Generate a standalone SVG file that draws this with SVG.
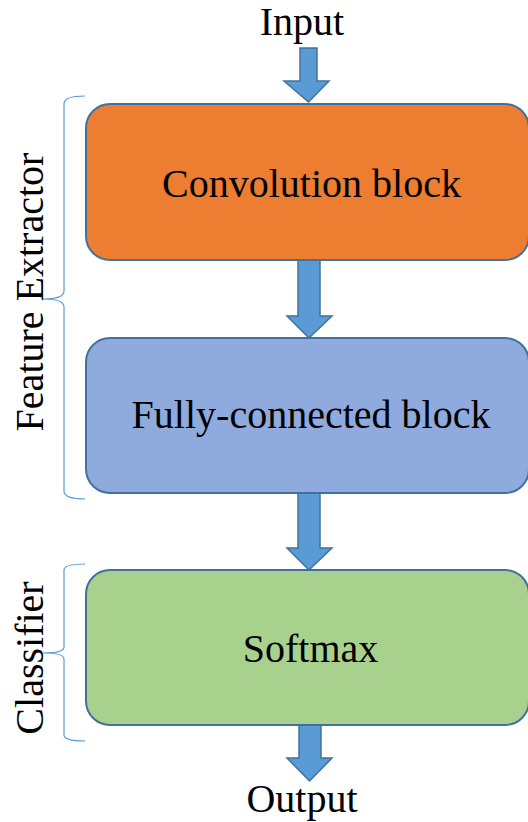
<svg xmlns="http://www.w3.org/2000/svg" width="528" height="822" viewBox="0 0 528 822">
<style>
.box{stroke:#41719C;stroke-width:2}
.arr{fill:#5B9BD5;stroke:#41719C;stroke-width:1.5;stroke-linejoin:miter}
.brace{fill:none;stroke:#5B9BD5;stroke-width:1.2}
.t{font-family:'Liberation Serif','Times New Roman','DejaVu Serif',serif;font-size:40px;fill:#000}
</style>
<rect width="528" height="822" fill="#fff"/>
<g id="connectors">
<path class="arr" d="M300,48 H317 V81 H329 L308.5,102 L284,81 H300 Z"/>
<path class="arr" d="M298,260 H320 V316 H332 L309,338 L287,316 H298 Z"/>
<path class="arr" d="M298,493 H320 V548 H332 L309,570 L287,548 H298 Z"/>
<path class="arr" d="M299,725 H321 V758 H332 L309.5,781 L287,758 H299 Z"/>
</g>
<g id="input"><text class="t" x="302" y="35" text-anchor="middle">Input</text></g>
<g id="output"><text class="t" x="302" y="812" text-anchor="middle">Output</text></g>
<g id="conv">
<rect class="box" x="86" y="104" width="443" height="156" rx="24" fill="#ED7D31"/>
<text class="t" x="311.5" y="197" text-anchor="middle">Convolution block</text>
</g>
<g id="fc">
<rect class="box" x="86" y="338" width="443" height="155" rx="24" fill="#8FAADC"/>
<text class="t" x="311" y="428" text-anchor="middle">Fully-connected block</text>
</g>
<g id="softmax">
<rect class="box" x="86" y="570" width="443" height="155" rx="24" fill="#A9D18E"/>
<text class="t" x="310.5" y="662" text-anchor="middle">Softmax</text>
</g>
<g id="feature-extractor">
<path class="brace" d="M85,96 Q64,96 64,104 V291 Q64,299 43,299 Q64,299 64,307 V491 Q64,499 85,499"/>
<text class="t" transform="translate(43,292) rotate(-90)" text-anchor="middle">Feature Extractor</text>
</g>
<g id="classifier">
<path class="brace" d="M85,564 Q64,564 64,570 V647 Q64,653 43,653 Q64,653 64,659 V735 Q64,741 85,741"/>
<text class="t" transform="translate(43,658) rotate(-90)" text-anchor="middle">Classifier</text>
</g>
</svg>
